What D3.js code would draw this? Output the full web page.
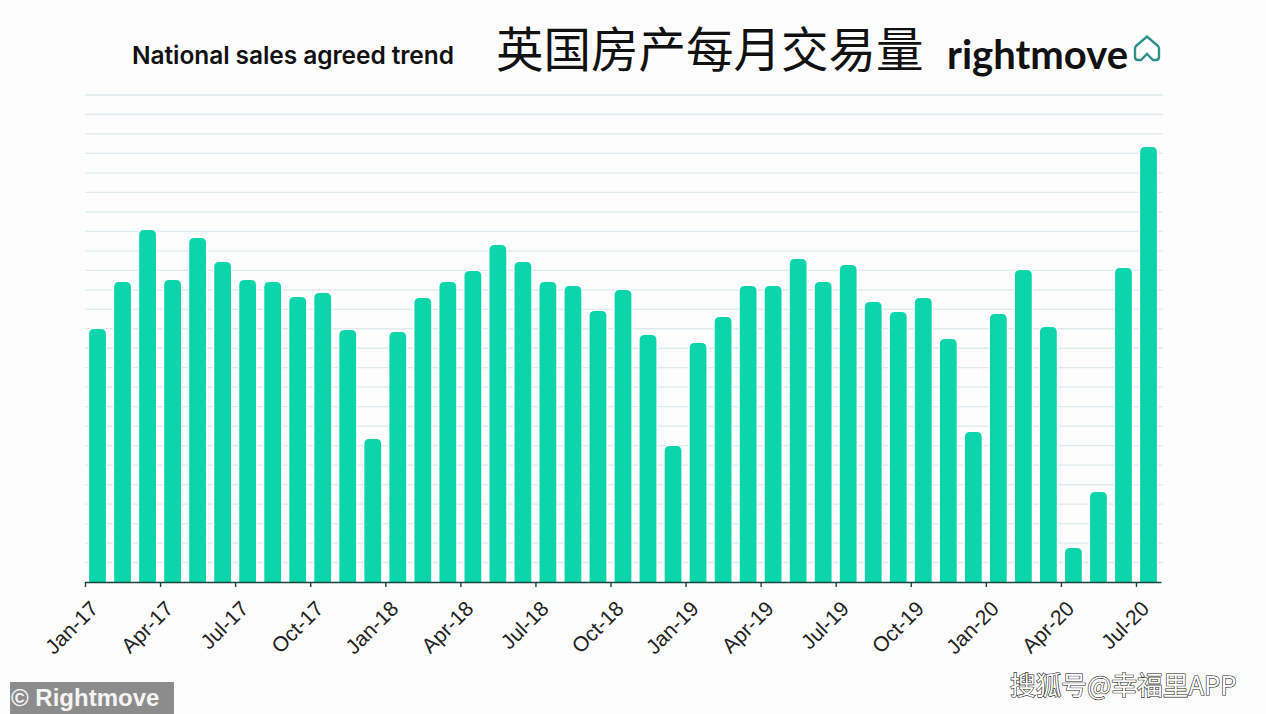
<!DOCTYPE html>
<html>
<head>
<meta charset="utf-8">
<script src="https://cdn.jsdelivr.net/npm/d3@7"></script>
<style>
html, body { margin: 0; padding: 0; background: #fdfdfe; overflow: hidden; }
svg { display: block; }
</style>
</head>
<body>
<div id="chart"></div>
<script>
var months = ['Jan','Feb','Mar','Apr','May','Jun','Jul','Aug','Sep','Oct','Nov','Dec'];
var years = ['17','18','19','20'];
var categories = [];
years.forEach(function(yr) {
    months.forEach(function(m) { categories.push(m + '-' + yr); });
});
categories = categories.slice(0, 43);

var sales = [
    129.9, 154, 180.7, 155, 176.6, 164.3, 155, 154, 146.3, 148.4, 129.4, 73.4,
    128.3, 145.8, 154, 159.7, 173, 164.3, 154, 152, 139.1, 149.9, 126.8, 69.8,
    122.7, 136, 152, 152, 165.8, 154, 162.7, 143.7, 138.6, 145.8, 124.7, 77,
    137.6, 160.2, 130.9, 17.5, 46.2, 161.2, 223.3
];
var gridValues = d3.range(10, 251, 10);
var tickIndexes = d3.range(0, 43, 3);

var width = 1266, height = 714;
var left = 85, right = 1161, top_ = 95, bottom = 582;

var svg = d3.select('#chart').append('svg')
    .attr('width', width)
    .attr('height', height);

var x = d3.scaleBand().domain(categories).range([left, right])
    .paddingInner(0.33)
    .paddingOuter(0.165);
var xTicks = d3.scaleLinear().domain([0, categories.length]).range([left, right]);
var y = d3.scaleLinear().domain([0, 250]).range([bottom, top_]);

// grid
svg.append('g').selectAll('line').data(gridValues).enter().append('line')
    .attr('x1', left)
    .attr('x2', 1163)
    .attr('y1', function(d) { return y(d); })
    .attr('y2', function(d) { return y(d); })
    .attr('stroke', '#dfe9ee')
    .attr('stroke-width', 1.3);

// bars, only the top corners are round
function barPath(d, i) {
    var x0 = x(categories[i]), w = x.bandwidth(), t = y(d), r = 5;
    return 'M' + x0 + ',' + bottom + 'V' + (t + r) + 'Q' + x0 + ',' + t + ' ' + (x0 + r) + ',' + t +
        'H' + (x0 + w - r) + 'Q' + (x0 + w) + ',' + t + ' ' + (x0 + w) + ',' + (t + r) + 'V' + bottom + 'Z';
}

svg.append('g').selectAll('path').data(sales).enter().append('path')
    .attr('d', barPath)
    .attr('fill', '#0cd4ab')
    .attr('stroke', '#ffffff')
    .attr('stroke-opacity', 0.9)
    .attr('stroke-width', 2.5)
    .attr('paint-order', 'stroke');

// axis
var axis = svg.append('g')
    .attr('transform', 'translate(0,' + bottom + ')')
    .call(d3.axisBottom(xTicks)
        .tickValues(tickIndexes)
        .tickSize(5)
        .tickSizeOuter(0)
        .tickFormat(function(i) { return categories[i]; }));

axis.select('.domain').attr('stroke', '#17453f').attr('stroke-width', 1.6);
axis.selectAll('.tick line').attr('stroke', '#17453f').attr('stroke-width', 1.4);
axis.selectAll('.tick text')
    .attr('font-family', '"Liberation Sans", sans-serif')
    .attr('font-size', 21)
    .attr('fill', '#222222')
    .attr('text-anchor', 'end')
    .attr('dx', 0)
    .attr('dy', 0)
    .attr('x', 0)
    .attr('y', 0)
    .attr('transform', 'translate(14,28) rotate(-45)');

// titles
svg.append('text')
    .attr('x', 132).attr('y', 64)
    .attr('font-family', 'Inter, sans-serif')
    .attr('font-weight', 600)
    .attr('font-size', 24.5)
    .attr('fill', '#111111')
    .attr('textLength', 322)
    .text('National sales agreed trend');

svg.append('text')
    .attr('x', 496).attr('y', 67)
    .attr('font-family', '"Noto Sans CJK SC", sans-serif')
    .attr('font-size', 47.5)
    .attr('fill', '#111111')
    .text('英国房产每月交易量');

svg.append('text')
    .attr('x', 947).attr('y', 69)
    .attr('font-family', 'Lato, sans-serif')
    .attr('font-weight', 700)
    .attr('font-size', 40)
    .attr('fill', '#111111')
    .text('rightmove');

// logo house
svg.append('path')
    .attr('d', 'M1136,46 L1147,36.500 L1158,46 Q1159,47 1159,49 L1159,57 Q1159,60 1156,60 L1153,60 L1147,54 L1141,60 L1138,60 Q1135,60 1135,57 L1135,49 Q1135,47 1136,46Z')
    .attr('fill', 'none')
    .attr('stroke', '#2f8f8a')
    .attr('stroke-width', 2.4);

// watermarks
svg.append('rect')
    .attr('x', 10).attr('y', 682)
    .attr('width', 164).attr('height', 32)
    .attr('fill', '#8c8c8c');

svg.append('text')
    .attr('x', 11).attr('y', 706)
    .attr('font-family', '"Liberation Sans", sans-serif')
    .attr('font-weight', 700)
    .attr('font-size', 24)
    .attr('fill', '#f4f4f4')
    .text('© Rightmove');

svg.append('text')
    .attr('x', 1010).attr('y', 695)
    .attr('font-family', '"Noto Sans CJK SC", sans-serif')
    .attr('font-size', 25.7)
    .attr('fill', '#ffffff')
    .attr('stroke', '#222222')
    .attr('stroke-width', 1.2)
    .attr('paint-order', 'stroke')
    .text('搜狐号@幸福里APP');
</script>
</body>
</html>
